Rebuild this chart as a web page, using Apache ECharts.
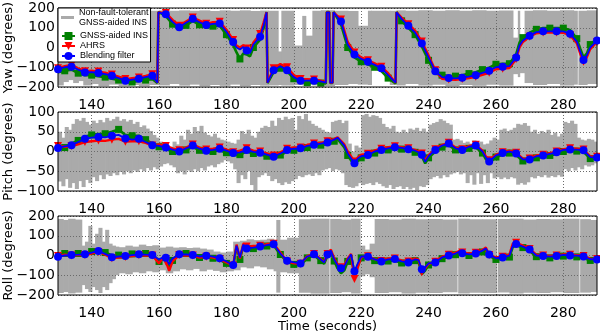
<!DOCTYPE html>
<html><head><meta charset="utf-8">
<script src="https://cdn.jsdelivr.net/npm/echarts@6/dist/echarts.min.js"></script>
<style>html,body{margin:0;padding:0;background:#fff}#c{width:600px;height:336px}</style>
</head><body><div id="c"></div>
<script>
// ---------- data ----------
const xTicks = [140,160,180,200,220,240,260,280];
const seriesNames = ['Non-fault-tolerant\nGNSS-aided INS','GNSS-aided INS','AHRS','Blending filter'];
const panelNames = ['Yaw (degrees)','Pitch (degrees)','Roll (degrees)'];

// Yaw
const yawT = [130,132,134,136,138,140,142,144,146,148,150,152,154,156,158,
 159.5,159.8,
 162,164,166,168,170,172,174,176,178,180,182,183,184,185,186,187,188,190,191,
 191.9,192.2,
 194,196,198,200,202,204,206,208,209.5,
 209.8,210.5,210.8,211.5,211.8,
 214,216,218,220,222,224,226,228,
 230.2,230.5,
 232,234,236,238,240,242,244,246,248,250,252,254,256,258,260,262,264,
 266,267,268,270,272,274,276,278,280,282,284,285,286,287,288,290];
const yawBlue = [-110,-100,-97,-112,-126,-125,-129,-135,-143,-155,-168,-163,-158,-150,-143,
 -178,178,
 168,130,102,125,146,128,114,120,122,80,28,0,-10,2,-15,-28,15,55,110,
 178,-178,
 -115,-95,-115,-150,-168,-168,-168,-172,-178,
 178,178,-178,-178,178,
 132,15,-35,-58,-72,-88,-105,-140,
 -178,178,
 145,110,75,20,-50,-120,-150,-155,-156,-153,-147,-140,-128,-118,-100,-97,-94,
 -50,10,35,60,78,82,82,82,82,70,30,-20,-63,-40,0,35];
const yawRed = [-105,-95,-88,-105,-120,-118,-122,-128,-137,-148,-160,-156,-152,-144,-135,
 -178,178,
 175,140,110,132,152,136,120,128,130,90,38,10,0,12,-5,-18,25,68,125,
 178,-178,
 -105,-84,-100,-140,-160,-160,-162,-168,-176,
 178,178,-178,-178,178,
 142,28,-25,-50,-65,-80,-98,-130,
 -178,178,
 152,118,85,30,-40,-115,-158,-162,-163,-160,-155,-148,-138,-128,-110,-107,-104,
 -58,0,28,55,72,76,76,76,75,62,22,-30,-72,-48,-8,28];
const yawGreen = [-125,-118,-112,-130,-140,-140,-145,-150,-158,-165,-178,-175,-170,-165,-160,
 -180,180,
 160,118,92,112,135,115,100,108,110,65,12,-25,-58,-30,-35,-45,0,40,95,
 180,-180,
 -125,-105,-120,-158,-175,-178,-180,-180,-182,
 180,180,-180,-180,180,
 118,0,-50,-72,-85,-100,-120,-155,
 -182,180,
 135,100,65,5,-65,-132,-140,-145,-145,-140,-132,-125,-112,-102,-85,-82,-82,
 -35,25,50,75,92,98,98,98,98,88,45,-5,-50,-30,15,45];
const yawBandT = [130,131.5,133,134.5,136,137.5,140,142,145,148,151,154,157,
 160,163,166,169,172,175,178,181,184,187,190,
 192.5,195.3,196.3,200,202.5,203.5,205.5,208,
 212,216,219,222,223,227,228.5,
 230.5,233,237,241,245,249,253,257,261,
 265,266.5,267,268.5,271,275,279,283,284.1,284.5,287];
const yawBandLo = [-192,-175,-165,-180,-170,-192,-185,-195,-188,-195,-190,-196,-190,
 -192,-185,-193,-188,-195,-190,-194,-188,-195,-190,-193,
 -192,-190,-192,-190,-192,-188,-192,-195,
 -190,-185,-188,-190,-115,-150,-190,
 -192,-185,-193,-188,-195,-190,-194,-188,-192,
 -135,-150,-130,-180,-190,-185,-192,-188,0,-190,-185];
const yawBandHi = [186,186,186,186,186,186,186,186,186,186,186,186,186,
 188,186,188,186,188,185,188,186,188,185,187,
 186,-20,186,10,160,60,186,188,
 186,185,110,186,186,186,186,
 188,186,188,186,188,186,188,186,187,
 50,186,55,186,188,186,188,186,0,186,188];

// Pitch
const pitchT = [130,132,134,136,138,140,142,144,146,148,150,152,154,156,158,160,162,164,166,168,170,
 172,174,176,178,180,182,184,186,188,190,192,194,196,198,200,202,204,206,208,210,212,
 213,215,216,218,219,
 220,222,224,226,228,230,232,234,236,
 237,238,239,240,
 242,244,246,248,250,252,254,256,
 257,258,
 260,262,264,266,268,270,272,274,276,278,280,282,284,286,288,290];
const pitchBlue = [9,13,16,24,32,35,37,36,40,42,33,30,32,24,16,14,10,5,0,8,15,
 7,2,4,7,2,-4,-2,4,-1,-3,-8,-13,-5,4,7,8,14,17,20,23,30,
 35,15,-5,-30,-18,
 -12,-9,0,4,8,11,9,6,2,
 -2,-8,-26,-12,
 4,15,20,8,4,12,15,0,
 -15,-25,
 -10,-4,0,-5,-20,-20,-12,-10,-6,-2,4,5,5,3,-14,-15];
const pitchRed = [14,12,14,18,24,26,28,27,30,32,25,26,26,22,15,18,14,8,3,10,18,
 10,5,7,10,5,-2,2,8,2,0,-5,-10,-2,7,10,10,17,20,22,26,32,
 36,18,0,-25,-15,
 -8,-6,3,7,11,13,11,8,4,
 0,-5,-22,-9,
 6,17,22,10,6,14,17,2,
 -12,-22,
 -8,-2,2,-3,-18,-18,-10,-8,-4,0,6,8,7,5,-12,-13];
const pitchGreen = [5,10,20,28,38,42,44,45,50,56,42,40,40,30,20,12,6,0,-5,4,12,
 3,-3,0,3,-3,-10,-8,0,-5,-7,-12,-16,-9,0,3,4,10,13,16,19,26,
 32,10,-10,-35,-24,
 -16,-13,-4,0,4,7,6,3,-2,
 -6,-12,-30,-16,
 0,11,16,4,0,8,11,-4,
 -19,-29,
 -14,-8,-4,-9,-24,-24,-16,-14,-10,-6,0,1,1,-1,-18,-19];
const pitchBandT = [130,131,132,133,134,135,136,137,138,139,140,141,142,143,144,145,146,147,148,149,
 150,151,152,153,154,155,156,157,158,159,160,161,162,163,164,165,166,167,168,169,
 170,171,172,173,174,175,176,177,178,179,180,181,182,183,184,185,186,187,188,189,
 190,191,192,193,194,195,196,197,198,199,200,201,202,203,204,205,206,207,208,209,
 210,211,212,213,214,215,216,217,218,219,220,221,222,223,224,225,226,227,228,229,
 230,231,232,233,234,235,236,237,238,239,240,241,242,243,244,245,246,247,248,249,
 250,251,252,253,254,255,256,257,258,259,260,261,262,263,264,265,266,267,268,269,
 270,271,272,273,274,275,276,277,278,279,280,281,282,283,284,285,286,287,288,289];
const pitchBandLo = [-76,-88,-70,-92,-80,-95,-75,-90,-72,-80,-65,-75,-60,-70,-58,-62,-55,-60,-52,-58,
 -50,-55,-48,-52,-45,-50,-42,-48,-40,-45,-38,-32,-30,-35,-40,-55,-50,-58,-48,-52,
 -45,-50,-42,-48,-38,-35,-40,-32,-28,-22,-25,-30,-45,-80,-60,-70,-50,-85,-98,-65,
 -60,-55,-62,-75,-70,-80,-85,-78,-82,-75,-70,-62,-65,-60,-58,-62,-55,-60,-48,-45,
 -42,-50,-45,-48,-55,-85,-90,-92,-88,-80,-85,-82,-80,-85,-78,-82,-88,-92,-85,-95,
 -90,-88,-95,-90,-96,-92,-98,-88,-90,-85,-70,-65,-62,-68,-60,-65,-58,-55,-52,-58,
 -55,-80,-60,-84,-55,-82,-60,-80,-55,-68,-65,-70,-66,-70,-65,-68,-84,-80,-84,-78,
 -65,-68,-62,-65,-60,-66,-62,-65,-60,-64,-45,-50,-42,-48,-40,-45,-35,-38,-35,-30];
const pitchBandHi = [50,35,62,55,70,82,78,85,75,68,78,72,80,74,85,78,82,88,78,82,
 76,80,70,75,62,66,58,52,42,35,25,18,15,12,25,18,40,30,55,45,
 62,52,65,48,42,38,45,35,30,28,25,22,20,30,52,45,55,40,35,50,
 60,65,62,78,65,85,80,88,82,85,55,90,82,95,78,70,65,60,55,50,
 48,75,78,80,72,78,20,0,15,10,92,95,88,92,90,85,70,62,58,65,
 50,48,55,48,58,55,60,52,58,50,68,72,75,82,78,72,68,30,32,28,
 22,25,20,28,22,25,18,20,28,35,30,55,58,52,55,60,70,68,72,65,
 50,55,45,52,48,55,42,48,38,45,75,72,78,70,35,30,28,32,30,25];

// Roll
const rollT = [130,132,134,136,138,140,142,144,146,148,150,152,154,156,158,160,
 161,162,163,164,
 166,168,170,172,174,176,178,180,182,
 183,184,185,186,
 188,190,192,194,196,198,200,202,204,206,208,
 209,210,211,212,213,214,215,216,217,218,219,220,
 222,224,226,228,230,232,234,236,
 237,238,239,240,
 242,244,246,248,
 249,250,252,254,256,257,258,260,262,264,265,266,
 268,270,272,274,276,278,280,282,284,286,288,290];
const rollBlue = [-6,0,3,4,6,15,23,8,-9,-5,-3,2,6,4,3,-20,
 -10,-11,-45,-15,
 6,5,3,-5,-1,-6,-14,-30,-48,
 50,-10,55,36,
 40,45,52,57,10,-26,-35,-40,-5,6,-20,
 -35,5,25,-20,-50,-65,-55,-20,5,-80,-40,-5,
 -6,-20,-31,-20,-18,-30,-35,-20,
 -23,-70,-60,-40,
 -35,-10,0,10,
 19,12,6,10,25,36,5,-14,-10,-1,50,58,
 45,30,0,-3,-6,-3,3,0,-1,-5,-19,-20];
const rollRed = [-2,4,0,2,2,10,18,4,-14,-10,-8,-3,2,0,0,-40,
 -15,-30,-78,-30,
 2,0,0,-10,-6,-10,-18,-35,-50,
 55,-15,60,45,
 48,50,58,60,15,-30,-40,-42,-3,8,-18,
 -32,8,30,-15,-45,-60,-50,-15,8,-119,-60,-8,
 -4,-18,-28,-15,-15,-25,-30,-15,
 -20,-85,-65,-42,
 -32,-6,4,14,
 22,15,10,14,28,40,2,-10,-6,4,60,65,
 50,33,4,0,-2,0,6,4,2,-2,-16,-18];
const rollGreen = [5,10,12,10,14,20,28,15,0,2,4,8,10,10,8,-30,
 -20,-15,-65,-25,
 12,10,5,-10,-8,-14,-22,-40,-55,
 45,-20,50,30,
 35,40,48,52,5,-32,-45,-50,-12,0,-26,
 -42,0,18,-28,-65,-90,-75,-30,0,-95,-50,-12,
 -12,-26,-38,-28,-25,-38,-42,-26,
 -30,-95,-75,-48,
 -42,-16,-6,4,
 12,6,0,4,18,30,-2,-20,-16,-8,42,52,
 40,24,-6,-9,-12,-9,-3,-6,-7,-11,-25,-26];
const rollBandT = [130,131.5,133,135,137,138,139,140,141,142,143,144,145,146,147,
 148,150,152,154,156,158,160,162,164,166,168,170,172,174,176,178,180,182,184,186,188,190,192,194,
 194.8,195.8,198,201.5,205,210.4,210.8,214,217,
 219.6,221,222.5,
 224,228,232,236,240,244,
 248.4,248.8,252,256,260.2,260.6,264,268,272,276,280,284.6,285,288];
const rollBandLo = [-190,-185,-192,-188,-150,-170,-185,-160,-175,-190,-160,-175,-140,-120,-100,
 -90,-95,-85,-90,-80,-85,-75,-90,-80,-70,-75,-68,-80,-72,-78,-85,-80,-75,-60,-65,-55,-60,-70,-80,
 -188,-85,-90,-188,-192,0,-190,-186,-192,
 -105,-95,-110,
 -190,-186,-192,-188,-190,-186,
 0,-192,-188,-190,0,-187,-192,-188,-190,-186,-190,0,-188,-185];
const rollBandHi = [185,180,186,182,50,70,150,60,110,140,70,130,60,50,45,
 42,50,45,55,48,52,40,45,40,42,38,40,35,30,20,15,20,70,75,82,78,80,85,70,
 180,80,90,183,186,0,185,182,186,
 50,30,60,
 185,182,186,183,185,182,
 0,186,184,183,0,185,186,182,185,183,186,0,184,180];

// ---------- chart ----------
const FONT = 'DejaVu Sans';
const LFONT = 'Liberation Sans';
const GRAY = '#aaaaaa', GREEN = '#008000', RED = '#ff0000', BLUE = '#0000ff';
const panels = [
  {top: 8, min: -200, max: 200, interval: 100, T: yawT, blue: yawBlue, red: yawRed, green: yawGreen, bT: yawBandT, bLo: yawBandLo, bHi: yawBandHi},
  {top: 112, min: -100, max: 100, interval: 50, T: pitchT, blue: pitchBlue, red: pitchRed, green: pitchGreen, bT: pitchBandT, bLo: pitchBandLo, bHi: pitchBandHi},
  {top: 216, min: -200, max: 200, interval: 100, T: rollT, blue: rollBlue, red: rollRed, green: rollGreen, bT: rollBandT, bLo: rollBandLo, bHi: rollBandHi}
];
const splitStyle = {color: '#6a6a6a', type: [1, 2], width: 1};
const grids = [], xAxes = [], yAxes = [], series = [];
const zip = (T, V) => T.map((t, k) => [t, V[k]]);
const onPhase = (t, phase) => Math.abs((t - phase) % 4) < 1e-6;
const fmtY = v => (v < 0 ? '\u2212' + (-v) : String(v));

panels.forEach((p, i) => {
  grids.push({left: 58, right: 3, top: p.top, height: 79, show: true, borderColor: '#000', borderWidth: 1,
    backgroundColor: 'transparent', z: 6, containLabel: false, outerBoundsMode: 'none'});
  xAxes.push({gridIndex: i, type: 'value', min: 130, max: 290, z: 3,
    axisLine: {show: false}, axisTick: {show: false, customValues: xTicks},
    axisLabel: {customValues: xTicks, color: '#000', fontFamily: FONT, fontSize: 14, margin: 11},
    splitLine: {show: true, lineStyle: splitStyle},
    name: i === 2 ? 'Time (seconds)' : '', nameLocation: 'middle', nameGap: 25, nameMoveOverlap: false,
    nameTextStyle: {color: '#000', fontFamily: FONT, fontSize: 13}});
  yAxes.push({gridIndex: i, type: 'value', min: p.min, max: p.max, interval: p.interval, z: 3,
    axisLine: {show: false}, axisTick: {show: false},
    axisLabel: {formatter: fmtY, color: '#000', fontFamily: FONT, fontSize: 14, margin: 3},
    splitLine: {show: true, lineStyle: splitStyle},
    name: panelNames[i], nameLocation: 'middle', nameGap: 43, nameMoveOverlap: false,
    nameTextStyle: {color: '#000', fontFamily: FONT, fontSize: 13}});
  series.push({type: 'custom', name: seriesNames[0], xAxisIndex: i, yAxisIndex: i, z: 1, clip: true,
    silent: true, color: GRAY, itemStyle: {color: GRAY},
    data: p.bT.map((t, k) => [t, k + 1 < p.bT.length ? p.bT[k + 1] : 290, p.bLo[k], p.bHi[k]]),
    encode: {x: [0, 1], y: [2, 3]},
    renderItem: (params, api) => {
      const a = api.coord([api.value(0), api.value(3)]);
      const b = api.coord([api.value(1), api.value(2)]);
      return {type: 'rect', shape: {x: a[0], y: a[1], width: b[0] - a[0] + 0.7, height: b[1] - a[1]},
        style: {fill: GRAY}};
    }});
  series.push({type: 'line', name: seriesNames[1], xAxisIndex: i, yAxisIndex: i, z: 4, silent: true,
    data: zip(p.T, p.green), symbol: 'rect', showSymbol: true,
    symbolSize: v => (onPhase(v[0], 132) ? 7 : 0),
    lineStyle: {color: GREEN, width: 2.6}, itemStyle: {color: GREEN}});
  series.push({type: 'line', name: seriesNames[2], xAxisIndex: i, yAxisIndex: i, z: 5, silent: true,
    data: zip(p.T, p.red), symbol: 'triangle', symbolRotate: 180, showSymbol: true,
    symbolSize: v => (onPhase(v[0], 130) ? 8 : 0),
    lineStyle: {color: RED, width: 2.4}, itemStyle: {color: RED}});
  series.push({type: 'line', name: seriesNames[3], xAxisIndex: i, yAxisIndex: i, z: 6, silent: true,
    data: zip(p.T, p.blue), symbol: 'circle', showSymbol: true,
    symbolSize: v => (onPhase(v[0], 130) ? 8 : 0),
    lineStyle: {color: BLUE, width: 1.8}, itemStyle: {color: BLUE}});
});

const legendText = {fontFamily: LFONT, fontSize: 9, color: '#000'};
const option = {
  animation: false,
  backgroundColor: '#fff',
  grid: grids, xAxis: xAxes, yAxis: yAxes, series: series,
  legend: [
    {left: 58, top: 8, orient: 'vertical', padding: [0, 2, 35, 3], itemGap: 0, itemWidth: 13, itemHeight: 3,
     backgroundColor: '#fff', borderColor: '#000', borderWidth: 1, z: 10, selectedMode: false,
     data: [{name: seriesNames[0], icon: 'rect'}],
     textStyle: Object.assign({lineHeight: 9.5}, legendText)},
    {left: 58, top: 31, orient: 'vertical', padding: [0, 0, 0, 3], itemGap: 0, itemWidth: 13, itemHeight: 10,
     z: 11, selectedMode: false,
     data: [seriesNames[1], seriesNames[2], seriesNames[3]],
     textStyle: Object.assign({lineHeight: 10}, legendText)}
  ]
};
const chart = echarts.init(document.getElementById('c'), null, {renderer: 'canvas'});
chart.setOption(option);
</script>
</body></html>
